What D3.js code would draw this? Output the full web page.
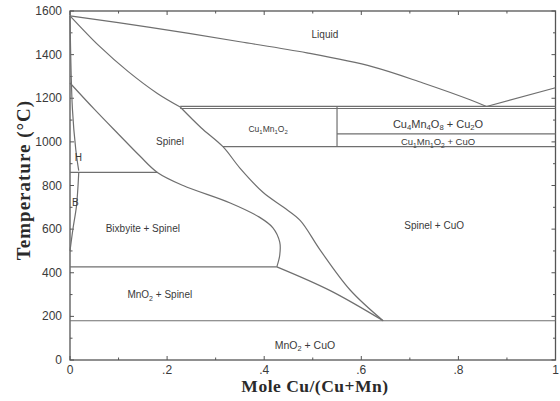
<!DOCTYPE html>
<html>
<head>
<meta charset="utf-8">
<script src="https://cdn.jsdelivr.net/npm/d3@7"></script>
<style>
  html, body { margin: 0; padding: 0; background: #fff; }
  svg { display: block; }
</style>
</head>
<body>
<svg id="chart" width="560" height="401"></svg>
<script>
// Cu–Mn–O phase diagram in air: temperature vs. mole fraction Cu/(Cu+Mn)

// Axis ticks
const xTicks = [0, 0.2, 0.4, 0.6, 0.8, 1];
const xTickLabels = ["0", ".2", ".4", ".6", ".8", "1"];
const yTicks = [0, 200, 400, 600, 800, 1000, 1200, 1400, 1600];
const yTickLabels = ["0", "200", "400", "600", "800", "1000", "1200", "1400", "1600"];

// Phase boundaries as [mole fraction Cu, temperature °C]
const liquidus = [[0, 1578], [0.165, 1525], [0.35, 1459], [0.488, 1408], [0.624, 1344], [0.727, 1270], [0.824, 1193], [0.858, 1162]];
const liquidusCuSide = [[0.858, 1162], [1, 1248]];
const spinelSolidus = [[0, 1578], [0.06, 1440], [0.12, 1322], [0.18, 1222], [0.227, 1160]];
const spinelCuLimit = [[0.227, 1160], [0.27, 1065], [0.315, 978], [0.35, 880], [0.398, 768], [0.44, 700], [0.474, 640], [0.515, 505], [0.577, 321], [0.645, 180]];
const spinelMnLimit = [[0, 1270], [0.05, 1150], [0.1, 1035], [0.144, 935], [0.18, 860], [0.233, 800], [0.33, 720], [0.39, 655], [0.418, 606], [0.432, 540], [0.432, 480], [0.426, 427]];
const lowSpinelLimit = [[0.426, 427], [0.536, 318], [0.645, 180]];
const hausmanniteLimit = [[0, 1578], [0.005, 1150], [0.012, 963], [0.018, 868]];
const bixbyiteLimit = [[0.018, 860], [0.016, 780], [0.013, 700], [0.006, 600], [0, 500]];

// Invariant lines: temperature, composition from, composition to
const isothermT = [1163, 1153, 1037, 978, 860, 427, 180];
const isothermFrom = [0.227, 0.227, 0.55, 0.315, 0, 0, 0];
const isothermTo = [1, 1, 1, 1, 0.18, 0.426, 1];
// Vertical boundary of the CuMnO2 field: composition, T bottom, T top
const verticalX = [0.55];
const verticalT0 = [978];
const verticalT1 = [1160];

// Field labels: text parts [text, isSubscript], composition, temperature, size
const fieldText = [
  [["Liquid", 0]],
  [["Spinel", 0]],
  [["Cu", 0], ["1", 1], ["Mn", 0], ["1", 1], ["O", 0], ["2", 1]],
  [["Cu", 0], ["4", 1], ["Mn", 0], ["4", 1], ["O", 0], ["8", 1], [" + Cu", 0], ["2", 1], ["O", 0]],
  [["Cu", 0], ["1", 1], ["Mn", 0], ["1", 1], ["O", 0], ["2", 1], [" + CuO", 0]],
  [["Bixbyite + Spinel", 0]],
  [["Spinel + CuO", 0]],
  [["MnO", 0], ["2", 1], [" + Spinel", 0]],
  [["MnO", 0], ["2", 1], [" + CuO", 0]],
  [["H", 0]],
  [["B", 0]]
];
const fieldX = [0.525, 0.206, 0.408, 0.758, 0.758, 0.150, 0.75, 0.185, 0.484, 0.017, 0.011];
const fieldT = [1491, 1000, 1060, 1083, 1000, 601, 615, 298, 69, 927, 720];
const fieldSize = [10, 10, 8.5, 11, 9.5, 10, 10, 10, 10.5, 10, 10];

const svg = d3.select("#chart");
const margin = { left: 70, right: 4.5, top: 11, bottom: 41 };
const W = 560, H = 401;

const x = d3.scaleLinear().domain([0, 1]).range([margin.left, W - margin.right]);
const y = d3.scaleLinear().domain([0, 1600]).range([H - margin.bottom, margin.top]);

const lineColor = "#6f6f6f";
const frameColor = "#555";
const textColor = "#3a3a3a";

// Frame
svg.append("rect")
  .attr("x", x(0)).attr("y", y(1600))
  .attr("width", x(1) - x(0)).attr("height", y(0) - y(1600))
  .attr("fill", "none").attr("stroke", frameColor).attr("stroke-width", 1.3);

// Inward ticks on all four sides
const xMinor = d3.range(0.1, 1, 0.2);
const yMinor = d3.range(100, 1600, 200);
const tickG = svg.append("g").attr("stroke", frameColor).attr("stroke-width", 1);
const addX = (vals, len) => {
  vals.forEach(v => {
    tickG.append("line").attr("x1", x(v)).attr("x2", x(v)).attr("y1", y(0)).attr("y2", y(0) - len);
    tickG.append("line").attr("x1", x(v)).attr("x2", x(v)).attr("y1", y(1600)).attr("y2", y(1600) + len);
  });
};
const addY = (vals, len) => {
  vals.forEach(v => {
    tickG.append("line").attr("y1", y(v)).attr("y2", y(v)).attr("x1", x(0)).attr("x2", x(0) + len);
    tickG.append("line").attr("y1", y(v)).attr("y2", y(v)).attr("x1", x(1)).attr("x2", x(1) - len);
  });
};
addX(xTicks, 4); addX(xMinor, 2.5);
addY(yTicks, 4); addY(yMinor, 2.5);

// Tick labels
svg.append("g").selectAll("text").data(xTicks).join("text")
  .attr("x", d => x(d)).attr("y", y(0) + 14)
  .attr("text-anchor", "middle")
  .attr("font-family", "Arial, 'Liberation Sans', sans-serif")
  .attr("font-size", 12).attr("fill", textColor)
  .text((d, i) => xTickLabels[i]);

svg.append("g").selectAll("text").data(yTicks).join("text")
  .attr("x", x(0) - 8).attr("y", d => y(d) + 4)
  .attr("text-anchor", "end")
  .attr("font-family", "Arial, 'Liberation Sans', sans-serif")
  .attr("font-size", 12).attr("fill", textColor)
  .text((d, i) => yTickLabels[i]);

// Axis titles
svg.append("text")
  .attr("x", 315).attr("y", 392)
  .attr("text-anchor", "middle")
  .attr("font-family", "'Liberation Serif', 'Times New Roman', serif")
  .attr("font-weight", "bold").attr("font-size", 17.5).attr("letter-spacing", 0.5)
  .attr("fill", "#2a2a2a")
  .text("Mole Cu/(Cu+Mn)");

svg.append("text")
  .attr("transform", "translate(30,180) rotate(-90)")
  .attr("text-anchor", "middle")
  .attr("font-family", "'Liberation Serif', 'Times New Roman', serif")
  .attr("font-weight", "bold").attr("font-size", 19).attr("letter-spacing", 1)
  .attr("fill", "#2a2a2a")
  .text("Temperature (°C)");

// Phase boundary curves
const curve = d3.line().x(d => x(d[0])).y(d => y(d[1])).curve(d3.curveCatmullRom.alpha(0.5));
const straight = d3.line().x(d => x(d[0])).y(d => y(d[1]));
const boundaries = [liquidus, spinelSolidus, spinelCuLimit, spinelMnLimit, lowSpinelLimit, hausmanniteLimit, bixbyiteLimit];
const plotG = svg.append("g").attr("fill", "none").attr("stroke", lineColor).attr("stroke-width", 1.2);
boundaries.forEach(b => plotG.append("path").attr("d", curve(b)));
plotG.append("path").attr("d", straight(liquidusCuSide));

// Isotherms
isothermT.forEach((t, i) => {
  plotG.append("line")
    .attr("x1", x(isothermFrom[i])).attr("x2", x(isothermTo[i]))
    .attr("y1", y(t)).attr("y2", y(t));
});
verticalX.forEach((v, i) => {
  plotG.append("line")
    .attr("x1", x(v)).attr("x2", x(v))
    .attr("y1", y(verticalT0[i])).attr("y2", y(verticalT1[i]));
});

// Field labels
fieldText.forEach((parts, i) => {
  const size = fieldSize[i];
  const t = svg.append("text")
    .attr("x", x(fieldX[i])).attr("y", y(fieldT[i]) + size * 0.35)
    .attr("text-anchor", "middle")
    .attr("font-family", "Arial, 'Liberation Sans', sans-serif")
    .attr("font-size", size).attr("fill", textColor);
  parts.forEach(([s, sub], j) => {
    const ts = t.append("tspan").text(s);
    if (sub) {
      ts.attr("font-size", size * 0.7).attr("dy", size * 0.25);
    } else if (j > 0 && parts[j - 1][1]) {
      ts.attr("dy", -size * 0.25);
    }
  });
});
</script>
</body>
</html>
